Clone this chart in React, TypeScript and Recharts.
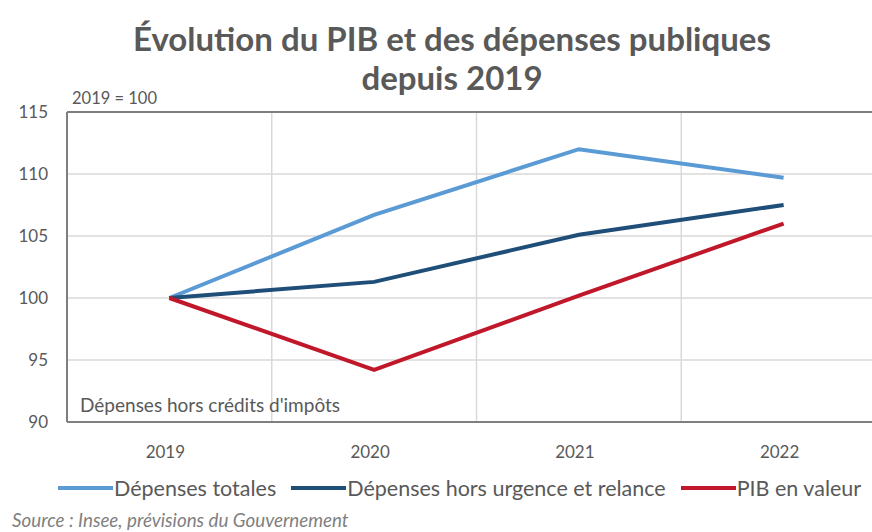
import React from 'react';
import { LineChart, Line, XAxis, YAxis, CartesianGrid, ReferenceLine } from 'recharts';

const years = [2019, 2020, 2021, 2022];
const depensesTotales = [100, 106.7, 112.0, 109.7];
const depensesHorsUrgence = [100, 101.3, 105.1, 107.5];
const pibValeur = [100, 94.2, 100.2, 106.0];
const yTicks = [90, 95, 100, 105, 110, 115];
const yearBounds = [2019.5, 2020.5, 2021.5];

const series = [
  { key: 'totales', name: 'Dépenses totales', color: '#5B9BD5' },
  { key: 'horsUrgence', name: 'Dépenses hors urgence et relance', color: '#1F4E79' },
  { key: 'pib', name: 'PIB en valeur', color: '#C0182A' },
];

const data = years.map((year, i) => ({
  year,
  totales: depensesTotales[i],
  horsUrgence: depensesHorsUrgence[i],
  pib: pibValeur[i],
}));

const FONT = 'Lato, "Open Sans", sans-serif';
const TEXT = '#595959';
const BORDER = '#7f7f7f';

export default function App() {
  return (
    <div
      style={{
        position: 'absolute',
        left: 0,
        top: 0,
        width: 872,
        height: 532,
        overflow: 'hidden',
        background: '#fff',
        fontFamily: FONT,
        color: TEXT,
      }}
    >
      <div
        style={{
          position: 'absolute',
          left: 0,
          top: 19,
          width: 904,
          textAlign: 'center',
          fontSize: 33,
          fontWeight: 700,
          lineHeight: '39px',
          color: '#595959',
        }}
      >
        Évolution du PIB et des dépenses publiques
        <br />
        depuis 2019
      </div>

      <div style={{ position: 'absolute', left: 0, top: 0 }}>
        <LineChart
          width={890}
          height={532}
          data={data}
          margin={{ top: 112, right: 4, bottom: 70, left: 0 }}
        >
          <XAxis xAxisId="bounds" type="number" dataKey="year" domain={[2018.5, 2022.5]} ticks={yearBounds} hide />
          <CartesianGrid xAxisId="bounds" stroke="#d9d9d9" strokeWidth={1.5} />
          <XAxis
            dataKey="year"
            type="number"
            domain={[2018.5, 2022.5]}
            ticks={years}
            height={40}
            axisLine={{ stroke: BORDER, strokeWidth: 2 }}
            tickLine={false}
            tickSize={0}
            tickMargin={24}
            tick={{ fill: TEXT, fontSize: 17, fontFamily: FONT, dx: -4 }}
          />
          <YAxis
            domain={[90, 115]}
            ticks={yTicks}
            width={67}
            axisLine={{ stroke: BORDER, strokeWidth: 2 }}
            tickLine={false}
            tickSize={0}
            tickMargin={19}
            tick={{ fill: TEXT, fontSize: 17, fontFamily: FONT }}
          />
          <ReferenceLine y={115} stroke={BORDER} strokeWidth={2} />
          {series.map((s) => (
            <Line
              key={s.key}
              dataKey={s.key}
              name={s.name}
              stroke={s.color}
              strokeWidth={4}
              dot={false}
              type="linear"
              isAnimationActive={false}
            />
          ))}
        </LineChart>
      </div>

      <div style={{ position: 'absolute', left: 72, top: 89, fontSize: 16.5, lineHeight: '18px' }}>2019 = 100</div>
      <div style={{ position: 'absolute', left: 80, top: 394, fontSize: 19, lineHeight: '22px' }}>
        Dépenses hors crédits d'impôts
      </div>

      <div
        style={{
          position: 'absolute',
          left: 58,
          top: 475,
          display: 'flex',
          alignItems: 'center',
          fontSize: 21.5,
          lineHeight: '26px',
          whiteSpace: 'nowrap',
        }}
      >
        {series.map((s, i) => (
          <div key={s.key} style={{ display: 'flex', alignItems: 'center', marginLeft: i === 0 ? 0 : 15 }}>
            <svg width={55} height={6} style={{ display: 'block' }}>
              <line x1={0} y1={3} x2={55} y2={3} stroke={s.color} strokeWidth={4} />
            </svg>
            <span style={{ marginLeft: 1 }}>{s.name}</span>
          </div>
        ))}
      </div>

      <div
        style={{
          position: 'absolute',
          left: 12,
          top: 510,
          fontSize: 18.8,
          fontStyle: 'italic',
          lineHeight: '20px',
          color: '#7f7f7f',
        }}
      >
        Source : Insee, prévisions du Gouvernement
      </div>
    </div>
  );
}
